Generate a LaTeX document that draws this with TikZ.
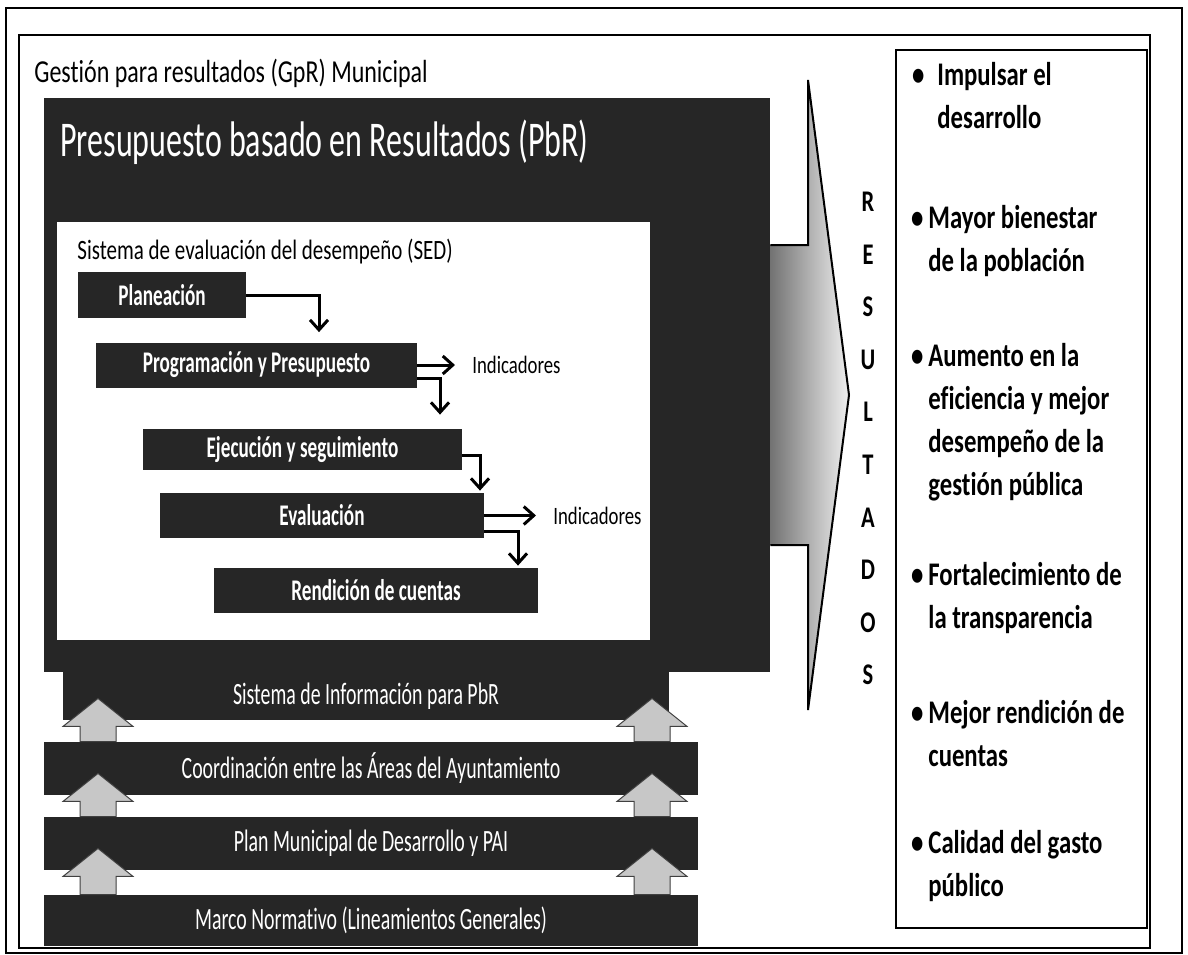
\documentclass[tikz,border=0pt]{standalone}
\usepackage{fontspec}
\setmainfont{Carlito}[FakeStretch=0.75,Ligatures=NoCommon]
\newfontfamily\estrecha{Carlito}[FakeStretch=0.64,Ligatures=NoCommon]
\usetikzlibrary{arrows.meta,calc,positioning}

\begin{document}
\begin{tikzpicture}[x=1pt,y=-1pt,thick,
   caja oscura/.style={fill=black!85,text=white,inner sep=0pt},
   etapa/.style={caja oscura,minimum height=45pt,font=\estrecha\fontsize{30}{34}\selectfont\bfseries},
   franja/.style={caja oscura,minimum width=654pt,minimum height=53pt,font=\estrecha\fontsize{31}{36}\selectfont},
   indicador/.style={anchor=west,inner sep=0pt,font=\fontsize{25}{30}\selectfont},
   logro/.style={anchor=west,align=left,inner sep=0pt,font=\fontsize{33}{43}\selectfont\bfseries},
   flujo/.style={draw,line width=3pt,-{Straight Barb[length=10pt,width=18pt]}},
   soporte/.style={fill=black!22,draw=black!75,line width=1pt}]

  \useasboundingbox (0,0) rectangle (1188,954);
  \fill[white] (0,0) rectangle (1188,954);

  % marcos
  \draw[line width=2pt] (6,8) rectangle (1182,953);
  \draw[line width=2pt] (19,35) rectangle (1150,948);
  \node[anchor=west,inner sep=0pt,font=\fontsize{32}{38}\selectfont] (gpr) at (34,73) {Gestión para resultados (GpR) Municipal};

  % PbR y SED
  \node[caja oscura,minimum width=726pt,minimum height=574pt] (pbr) at (407,385) {};
  \node[anchor=west,inner sep=0pt,text=white,font=\estrecha\fontsize{50}{58}\selectfont] (pbrtit) at (60,142) {Presupuesto basado en Resultados (PbR)};
  \node[fill=white,inner sep=0pt,minimum width=593pt,minimum height=418pt] (sed) at (353.5,431) {};
  \node[anchor=west,inner sep=0pt,font=\fontsize{28}{34}\selectfont] (sedtit) at (77,252) {Sistema de evaluación del desempeño (SED)};

  \node[etapa,minimum width=168pt,minimum height=46pt] (plan) at (162,295) {Planeación};
  \node[etapa,minimum width=321pt] (prog) at (256.5,365) {Programación y  Presupuesto};
  \node[etapa,minimum width=319pt,minimum height=41pt] (ejec) at (302.5,449.5) {Ejecución y seguimiento};
  \node[etapa,minimum width=324pt] (eval) at (322,515.5) {Evaluación};
  \node[etapa,minimum width=324pt] (rend) at (376,590.5) {Rendición de cuentas};
  \node[indicador] (ind1) at (472,365) {Indicadores};
  \node[indicador] (ind2) at (553,515.5) {Indicadores};

  \draw[flujo] (plan.east) -| ([xshift=62.5pt,yshift=10pt]prog.north);
  \draw[flujo] ([yshift=-13pt]prog.east) -| ([xshift=137.5pt,yshift=14pt]ejec.north);
  \draw[flujo] ([yshift=-5.5pt]ejec.east) -| ([xshift=158pt,yshift=2pt]eval.north);
  \draw[flujo] ([yshift=-15.5pt]eval.east) -| ([xshift=142pt,yshift=2pt]rend.north);
  \foreach \from/\to in {prog/ind1,eval/ind2} \draw[flujo,shorten >=17pt] (\from) -- (\to);

  % bases
  \node[caja oscura,minimum width=606pt,minimum height=48pt,font=\estrecha\fontsize{31}{36}\selectfont] (sip) at (366,696) {Sistema de Información para PbR};
  \node[franja] (coord) at (371,768.5) {Coordinación entre las Áreas del Ayuntamiento};
  \node[franja] (pmd) at (371,843.5) {Plan Municipal de Desarrollo y PAI};
  \node[franja,minimum height=51pt] (marco) at (371,920.5) {Marco Normativo (Lineamientos Generales)};

  \foreach \arriba/\abajo in {sip/coord,coord/pmd,pmd/marco}
    \foreach \x in {98,652}
      \draw[soporte] ($(\x,0 |- \abajo.north)+(-18,0)$) -- ($(\x,0 |- \arriba.south)+(-18,6)$) -- ++(-17,0)
        -- ($(\x,0 |- \arriba.south)+(0,-22)$) -- ($(\x,0 |- \arriba.south)+(35,6)$) -- ++(-17,0)
        -- ($(\x,0 |- \abajo.north)+(18,0)$) -- cycle;

  % flecha de resultados
  \draw[line width=2pt,left color=black!55,right color=black!6] (pbr.east |- 0,245) -- (808,245) -- (808,80)
    -- (849,395) -- (808,710) -- (808,545) -- (pbr.east |- 0,545);
  \node[align=center,inner sep=0pt,font=\fontsize{30}{52.6}\selectfont\bfseries] (res) at (868,438.5) {R\\E\\S\\U\\L\\T\\A\\D\\O\\S};

  % logros
  \draw[line width=1.5pt] (896,50) rectangle (1147,928);
  \node[logro] (l1) at (937,96) {\llap{\textbullet\hspace{13pt}}Impulsar el\\desarrollo};
  \node[logro] (l2) at (928,241) {\llap{\textbullet\hspace{5pt}}Mayor bienestar\\de la población};
  \node[logro] (l3) at (928,422) {\llap{\textbullet\hspace{5pt}}Aumento en la\\eficiencia y mejor\\desempeño de la\\gestión pública};
  \node[logro] (l4) at (928,598) {\llap{\textbullet\hspace{5pt}}Fortalecimiento de\\la transparencia};
  \node[logro] (l5) at (928,734) {\llap{\textbullet\hspace{5pt}}Mejor rendición de\\cuentas};
  \node[logro] (l6) at (928,866) {\llap{\textbullet\hspace{5pt}}Calidad del gasto\\público};
\end{tikzpicture}
\end{document}
